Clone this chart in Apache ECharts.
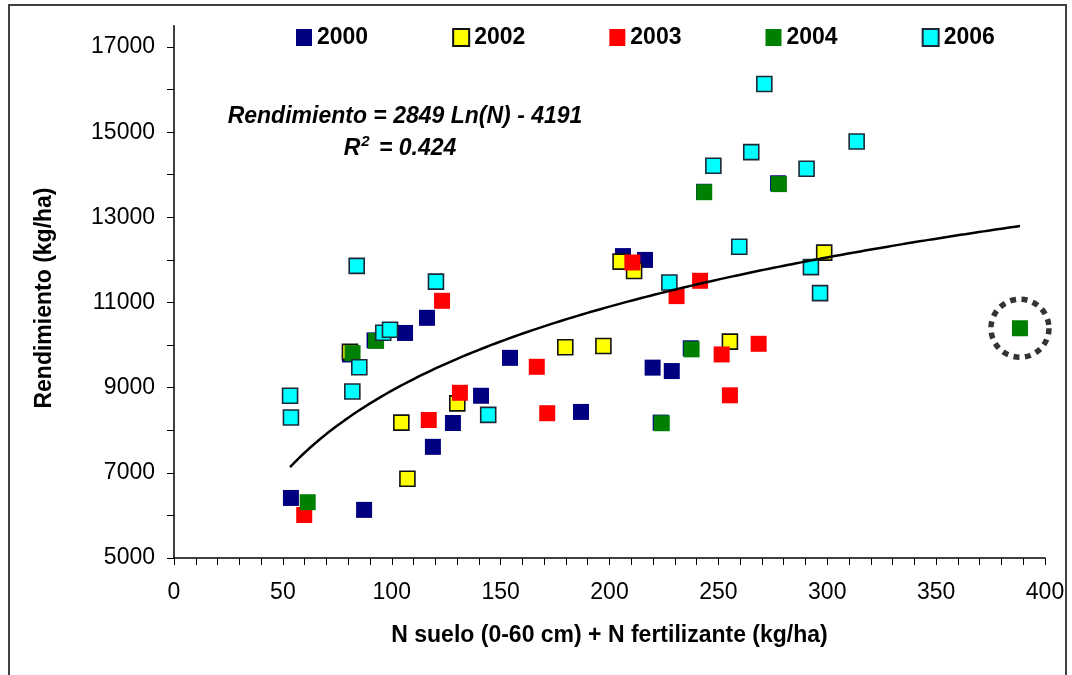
<!DOCTYPE html>
<html>
<head>
<meta charset="utf-8">
<title>Rendimiento vs N disponible</title>
<script src="https://cdn.jsdelivr.net/npm/echarts@6/dist/echarts.min.js"></script>
<style>
  html, body { margin: 0; padding: 0; background: #ffffff; }
  #chart { width: 1072px; height: 675px; }
</style>
</head>
<body>
<div id="chart"></div>
<script>
// N suelo + N fertilizante (kg/ha), Rendimiento (kg/ha) por campaña
const year2000 = [
  [53.7, 6410], [87.3, 6130], [80.8, 9780], [92.1, 10110], [106.1, 10285],
  [116.2, 10640], [118.9, 7610], [128.1, 8170], [141.0, 8810], [154.3, 9700],
  [186.9, 8430], [206.2, 12090], [216.3, 12000], [219.8, 9470], [228.6, 9390],
  [237.3, 9925], [223.5, 8180], [243.4, 13600], [277.4, 13800]
];
const year2002 = [
  [80.8, 9840], [104.4, 8180], [107.2, 6860], [130.1, 8630], [179.7, 9950],
  [197.2, 9980], [205.1, 11960], [211.3, 11740], [255.3, 10080], [298.6, 12170]
];
const year2003 = [
  [59.8, 6010], [117.0, 8240], [131.3, 8880], [123.1, 11040], [166.6, 9490],
  [171.4, 8400], [210.5, 11940], [230.8, 11150], [241.6, 11510], [251.5, 9780],
  [268.5, 10030], [255.3, 8820]
];
const year2004 = [
  [61.4, 6310], [82.0, 9810], [92.8, 10100], [237.7, 9900], [224.0, 8165],
  [243.5, 13590], [277.8, 13780], [388.5, 10395]
];
const year2006 = [
  [53.3, 8810], [53.7, 8300], [83.9, 11860], [81.9, 8910], [85.1, 9480],
  [96.1, 10290], [99.2, 10360], [120.3, 11490], [144.3, 8360], [271.1, 16130],
  [247.7, 14210], [265.1, 14530], [290.5, 14140], [313.5, 14780], [259.6, 12310],
  [227.5, 11470], [292.5, 11830], [296.7, 11220]
];

const seriesNames = ['2000', '2002', '2003', '2004', '2006'];

// Ajuste logarítmico: Rendimiento = a·Ln(N) + b
const fitA = 2849;
const fitB = -4191;
const fitR2 = 0.424;

// Punto destacado con círculo punteado (2004, N alto)
const highlighted = [year2004[year2004.length - 1]];

// Marcas y etiquetas de los ejes
const xTicks = [0,10,20,30,40,50,60,70,80,90,100,110,120,130,140,150,160,170,180,190,200,
                210,220,230,240,250,260,270,280,290,300,310,320,330,340,350,360,370,380,390,400];
const xLabels = [0, 50, 100, 150, 200, 250, 300, 350, 400];
const yTicks = [5000,6000,7000,8000,9000,10000,11000,12000,13000,14000,15000,16000,17000];
const yLabels = [5000, 7000, 9000, 11000, 13000, 15000, 17000];

const FONT = "'Liberation Sans', Arial, sans-serif";

const allPoints = [].concat(year2000, year2002, year2003, year2004, year2006);
const nMin = Math.min.apply(null, allPoints.map(p => p[0]));
const nMax = Math.max.apply(null, allPoints.map(p => p[0]));
const fitCurve = [];
const steps = 160;
for (let i = 0; i <= steps; i++) {
  const n = nMin + (nMax - nMin) * i / steps;
  fitCurve.push([n, fitA * Math.log(n) + fitB]);
}

function scatter(name, data, color, border) {
  return {
    name: name,
    type: 'scatter',
    data: data,
    symbol: 'rect',
    symbolSize: border ? 15 : 16,
    z: 2,
    itemStyle: {
      color: color,
      borderColor: border || color,
      borderWidth: border ? 1.6 : 0,
      opacity: 1
    },
    emphasis: { disabled: true }
  };
}

const chart = echarts.init(document.getElementById('chart'), null, { renderer: 'canvas' });

chart.setOption({
  animation: false,
  backgroundColor: '#ffffff',
  textStyle: { fontFamily: FONT, color: '#000' },
  grid: { left: 174, right: 27, top: 25.7, bottom: 117, containLabel: false },
  legend: {
    data: seriesNames,
    left: 291,
    top: 21,
    itemWidth: 16,
    itemHeight: 17,
    itemGap: 84,
    icon: 'rect',
    selectedMode: false,
    textStyle: { fontFamily: FONT, fontSize: 23, fontWeight: 'bold', color: '#000' }
  },
  xAxis: {
    type: 'value',
    min: 0,
    max: 400,
    interval: 10,
    name: 'N suelo (0-60 cm) + N fertilizante (kg/ha)',
    nameLocation: 'middle',
    nameGap: 66,
    nameTextStyle: { fontFamily: FONT, fontSize: 23, fontWeight: 'bold', color: '#000' },
    axisLine: { show: true, onZero: false, lineStyle: { color: '#000', width: 1.5 } },
    axisTick: { show: true, inside: false, length: 7, customValues: xTicks, lineStyle: { color: '#000', width: 1 } },
    axisLabel: { customValues: xLabels, margin: 23, fontFamily: FONT, fontSize: 23, color: '#000' },
    splitLine: { show: false }
  },
  yAxis: {
    type: 'value',
    min: 5000,
    max: 17500,
    interval: 1000,
    axisLine: { show: true, onZero: false, lineStyle: { color: '#000', width: 1.5 } },
    axisTick: { show: true, inside: false, length: 7, customValues: yTicks, lineStyle: { color: '#000', width: 1 } },
    axisLabel: {
      customValues: yLabels,
      margin: 19,
      fontFamily: FONT,
      fontSize: 23,
      color: '#000',
      formatter: v => String(v)
    },
    splitLine: { show: false }
  },
  graphic: [
    {
      type: 'rect',
      shape: { x: 9, y: 5, width: 1057, height: 700 },
      style: { fill: 'none', stroke: '#404040', lineWidth: 2 },
      silent: true,
      z: -10
    },
    {
      // título del eje Y
      type: 'text',
      x: 45,
      y: 298,
      rotation: Math.PI / 2,
      style: {
        text: 'Rendimiento (kg/ha)',
        font: "bold 23px 'Liberation Sans', Arial, sans-serif",
        fill: '#000',
        align: 'center',
        verticalAlign: 'middle'
      },
      z: 10
    },
    {
      type: 'text',
      x: 405,
      y: 117,
      style: {
        text: 'Rendimiento = ' + fitA + ' Ln(N) - ' + Math.abs(fitB),
        font: "italic bold 23px 'Liberation Sans', Arial, sans-serif",
        fill: '#000',
        align: 'center',
        verticalAlign: 'middle'
      },
      z: 10
    },
    {
      type: 'text',
      x: 400,
      y: 147,
      style: {
        text: '{r|R}{s|2}{r| = ' + fitR2.toFixed(3) + '}',
        align: 'center',
        verticalAlign: 'middle',
        rich: {
          r: { font: "italic bold 23px 'Liberation Sans', Arial, sans-serif", fill: '#000', verticalAlign: 'bottom', lineHeight: 26 },
          s: { font: "italic bold 15px 'Liberation Sans', Arial, sans-serif", fill: '#000', verticalAlign: 'bottom', lineHeight: 16, padding: [0, 3, 11, 1] }
        }
      },
      z: 10
    }
  ],
  series: [
    scatter('2000', year2000, '#000080', null),
    scatter('2002', year2002, '#FFFF00', '#111111'),
    scatter('2003', year2003, '#FF0000', null),
    scatter('2004', year2004, '#008000', null),
    scatter('2006', year2006, '#00FFFF', '#1c2838'),
    {
      name: 'ajuste',
      type: 'line',
      data: fitCurve,
      showSymbol: false,
      symbol: 'none',
      smooth: false,
      z: 5,
      lineStyle: { color: '#000', width: 2.5 },
      emphasis: { disabled: true }
    },
    {
      name: 'destacado',
      type: 'scatter',
      data: highlighted,
      symbol: 'circle',
      symbolSize: 58,
      z: 6,
      itemStyle: {
        color: 'rgba(0,0,0,0)',
        borderColor: '#000',
        borderWidth: 5.5,
        borderType: [6, 5.5]
      },
      emphasis: { disabled: true }
    }
  ]
});
</script>
</body>
</html>
